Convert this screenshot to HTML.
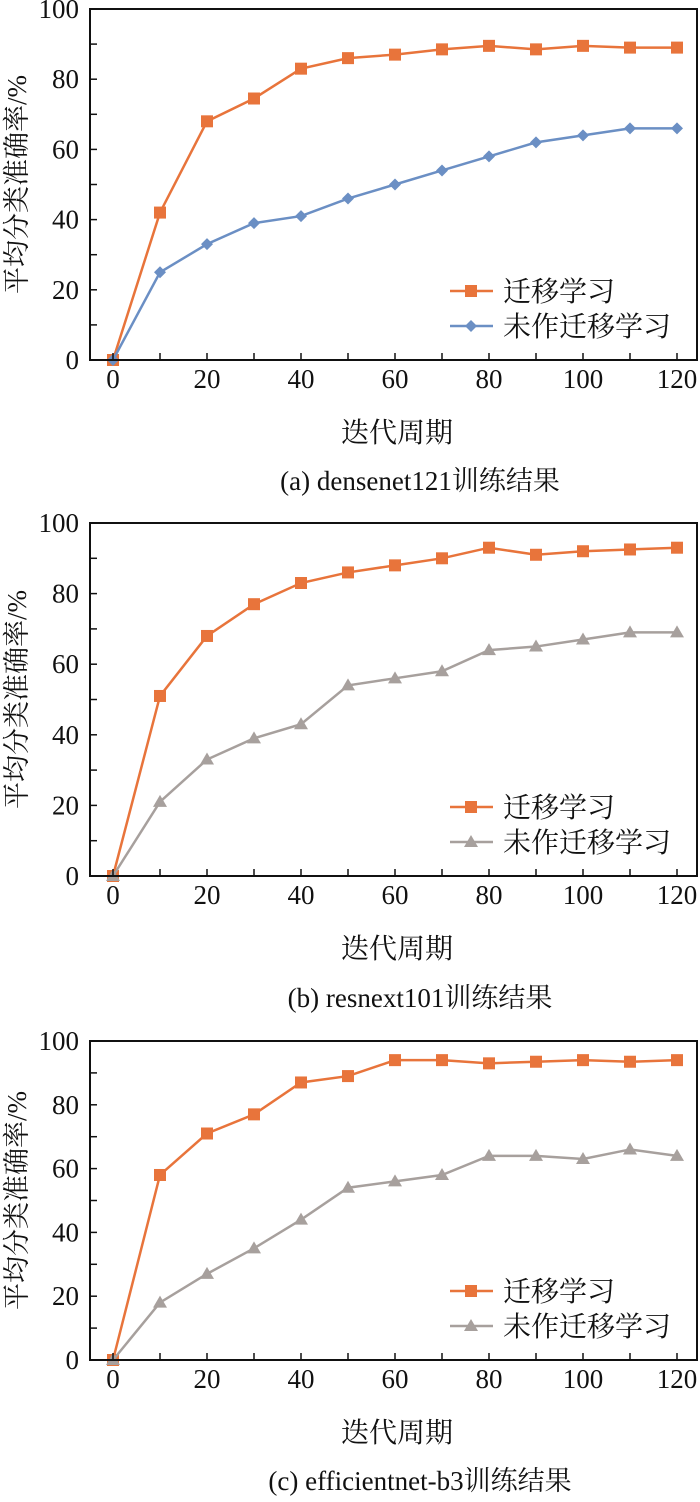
<!DOCTYPE html>
<html><head><meta charset="utf-8"><style>
html,body{margin:0;padding:0;background:#fff;}
svg text{font-family:"Liberation Serif","Noto Serif CJK SC","Noto Sans CJK SC",serif;fill:#111;}
</style></head><body>
<svg id="root" width="700" height="1497" viewBox="0 0 700 1497" xmlns="http://www.w3.org/2000/svg"></svg>
<script>
const epochs = [0,10,20,30,40,50,60,70,80,90,100,110,120];
const yTicks = [0,20,40,60,80,100];
const xTicks = [0,20,40,60,80,100,120];
const aTransfer = [0,42,68,74.5,83,86,87,88.5,89.5,88.5,89.5,89,89];
const aNoTransfer = [0,25,33,39,41,46,50,54,58,62,64,66,66];
const bTransfer = [0,51,68,77,83,86,88,90,93,91,92,92.5,93];
const bNoTransfer = [0,21,33,39,43,54,56,58,64,65,67,69,69];
const cTransfer = [0,58,71,77,87,89,94,94,93,93.5,94,93.5,94];
const cNoTransfer = [0,18,27,35,44,54,56,58,64,64,63,66,64];
const legendLabels = ["迁移学习","未作迁移学习"];
const captions = ["(a) densenet121训练结果","(b) resnext101训练结果","(c) efficientnet-b3训练结果"];

const NS="http://www.w3.org/2000/svg";
const FF='"Liberation Serif","Noto Serif CJK SC","Noto Sans CJK SC",serif';
const root=document.getElementById('root');
function mk(tag,attrs,parent){const e=document.createElementNS(NS,tag);for(const k in attrs)e.setAttribute(k,attrs[k]);if(tag==='text')e.setAttribute('font-family',FF);(parent||root).appendChild(e);return e;}

const ORANGE="#e8743b", BLUE="#6b8fc4", GRAY="#a7a09d";

function marker(g,type,x,y,color){
  let m;
  if(type==='square'){m=mk('rect',{x:x-6,y:y-6,width:12,height:12,fill:color},g);}
  else if(type==='diamond'){m=mk('polygon',{points:`${x},${y-6} ${x+6},${y} ${x},${y+6} ${x-6},${y}`,fill:color},g);}
  else {m=mk('polygon',{points:`${x},${y-7} ${x+7},${y+5} ${x-7},${y+5}`,fill:color},g);}
  return m;
}

function chart(cfg){
  const L=90,R=697,T=cfg.top,B=cfg.bottom;
  const xs=v=>113+v*(677-113)/120;
  const ys=v=>B-v*(B-T)/100;
  const g=mk('g',{});
  
  
  [[cfg.s1,ORANGE,'square','transfer-series'],[cfg.s2,cfg.c2,cfg.m2,'no-transfer-series']].forEach(([data,col,mt,nm])=>{
    const sg=mk('g',{},g);
    
    
    const pts=data.map((v,i)=>xs(epochs[i])+','+ys(v)).join(' ');
    const pl=mk('polyline',{points:pts,fill:'none',stroke:col,'stroke-width':2.5},sg);
    
    
    data.forEach((v,i)=>{const m=marker(sg,mt,xs(epochs[i]),ys(v),col);
      
      });
  });
  const box=mk('rect',{x:L,y:T,width:R-L,height:B-T,fill:'none',stroke:'#111','stroke-width':2},g);
  
  
  for(let v=0;v<=100;v+=10){mk('line',{x1:L,x2:L+7,y1:ys(v),y2:ys(v),stroke:'#111','stroke-width':1.5},g);}
  yTicks.forEach(v=>{const t=mk('text',{x:79,y:ys(v)+9,'text-anchor':'end','font-size':27},g);t.textContent=v;
    
    });
  for(let v=0;v<=120;v+=10){mk('line',{x1:xs(v),x2:xs(v),y1:B,y2:B-7,stroke:'#111','stroke-width':1.5},g);}
  xTicks.forEach(v=>{const t=mk('text',{x:xs(v),y:B+28,'text-anchor':'middle','font-size':27},g);t.textContent=v;
    
    });
  const yt=mk('text',{x:0,y:0,'text-anchor':'middle','font-size':27,transform:`translate(26,${(T+B)/2}) rotate(-90)`},g);
  yt.textContent='平均分类准确率/%';
  
  
  const xt=mk('text',{x:397,y:B+82,'text-anchor':'middle','font-size':28},g);
  xt.textContent='迭代周期';
  
  
  const cp=mk('text',{x:420,y:cfg.cap,'text-anchor':'middle','font-size':27},g);
  cp.textContent=cfg.caption;
  
  
  const lg=mk('g',{},g);
  
  
  [[ORANGE,'square',B-69,legendLabels[0]],[cfg.c2,cfg.m2,B-34,legendLabels[1]]].forEach(([col,mt,y,lab])=>{
    mk('line',{x1:450,x2:493,y1:y,y2:y,stroke:col,'stroke-width':2.5},lg);
    marker(lg,mt,471,y,col);
    const t=mk('text',{x:503,y:y+10,'font-size':28},lg);t.textContent=lab;
    
    
  });
}

chart({name:'chart-densenet121',top:9,bottom:360,cap:490,s1:aTransfer,s2:aNoTransfer,c2:BLUE,m2:'diamond',caption:captions[0]});
chart({name:'chart-resnext101',top:523,bottom:876,cap:1007,s1:bTransfer,s2:bNoTransfer,c2:GRAY,m2:'triangle',caption:captions[1]});
chart({name:'chart-efficientnet-b3',top:1041,bottom:1360,cap:1490,s1:cTransfer,s2:cNoTransfer,c2:GRAY,m2:'triangle',caption:captions[2]});
</script>
</body></html>
